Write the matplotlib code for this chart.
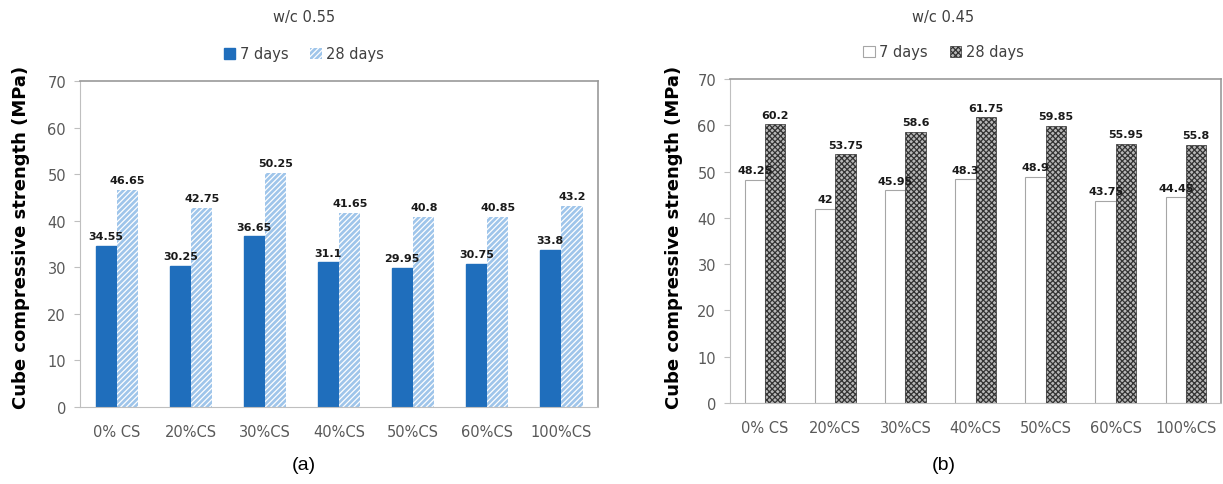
import matplotlib
matplotlib.use("Agg")
import matplotlib.pyplot as plt
import numpy as np

plt.rcParams['hatch.linewidth'] = 0.9

mixes = ['0% CS', '20%CS', '30%CS', '40%CS', '50%CS', '60%CS', '100%CS']

# w/c 0.55
wc55_7d = [34.55, 30.25, 36.65, 31.1, 29.95, 30.75, 33.8]
wc55_28d = [46.65, 42.75, 50.25, 41.65, 40.8, 40.85, 43.2]

# w/c 0.45
wc45_7d = [48.25, 42, 45.95, 48.3, 48.9, 43.75, 44.45]
wc45_28d = [60.2, 53.75, 58.6, 61.75, 59.85, 55.95, 55.8]

grey = '#595959'
w = 0.29

fig = plt.figure(figsize=(12.23, 4.85), dpi=100)
ax1 = fig.add_axes([0.0654, 0.1588, 0.4236, 0.6721])
ax2 = fig.add_axes([0.5969, 0.167, 0.4015, 0.668])


def panel(ax, v7, v28, style7, style28, title, caption, cap_x, ylab_x):
    x = np.arange(len(mixes))
    b7 = ax.bar(x - w / 2, v7, w, label='7 days', **style7)
    b28 = ax.bar(x + w / 2, v28, w, label='28 days', **style28)
    for bars, vals in ((b7, v7), (b28, v28)):
        for r, v in zip(bars, vals):
            ax.text(r.get_x() + r.get_width() / 2, v + 1.0, f'{v:g}',
                    ha='center', va='bottom', fontsize=8, fontweight='bold',
                    color='#1a1a1a')
    ax.set_xlim(-0.5, len(mixes) - 0.5)
    ax.set_ylim(0, 70)
    ax.set_yticks(range(0, 71, 10))
    ax.set_xticks(x)
    ax.set_xticklabels(mixes)
    for lab in ax.get_xticklabels() + ax.get_yticklabels():
        lab.set_fontsize(10.5)
        lab.set_color(grey)
    ax.tick_params(axis='x', length=0, pad=12)
    ax.tick_params(axis='y', length=4, color='#bfbfbf', pad=6)
    for s in ('left', 'bottom'):
        ax.spines[s].set_color('#bfbfbf')
    for s in ('top', 'right'):
        ax.spines[s].set_color('#999999')
        ax.spines[s].set_linewidth(1.2)
    fig.text(ylab_x, 0.51, 'Cube compressive strength (MPa)', rotation=90,
             ha='center', va='center', fontsize=13, fontweight='bold')
    fig.text(cap_x, 0.963, title, ha='center', va='center', fontsize=10.5,
             color='#404040')
    pos = ax.get_position()
    anchor = (cap_x - pos.x0) / pos.width
    leg = ax.legend(loc='lower center', bbox_to_anchor=(anchor, 1.02),
                    ncol=2, frameon=False, fontsize=10.5, handlelength=0.8,
                    handleheight=0.8, handletextpad=0.3, columnspacing=1.5)
    for t in leg.get_texts():
        t.set_color('#404040')
    fig.text(cap_x, 0.041, caption, ha='center', va='center', fontsize=14,
             family='Liberation Sans')


panel(ax1, wc55_7d, wc55_28d,
      dict(color='#1f6ebc', edgecolor='#1f6ebc'),
      dict(facecolor='#9fc5ea', edgecolor='white', hatch='//////', linewidth=0),
      'w/c 0.55', '(a)', 0.2486, 0.017)
panel(ax2, wc45_7d, wc45_28d,
      dict(facecolor='white', edgecolor='#a6a6a6', linewidth=0.8),
      dict(facecolor='#b8b8b8', edgecolor='#333333', hatch='xxxxxx', linewidth=0.5),
      'w/c 0.45', '(b)', 0.7714, 0.551)

fig.savefig('out.png', dpi=100)
